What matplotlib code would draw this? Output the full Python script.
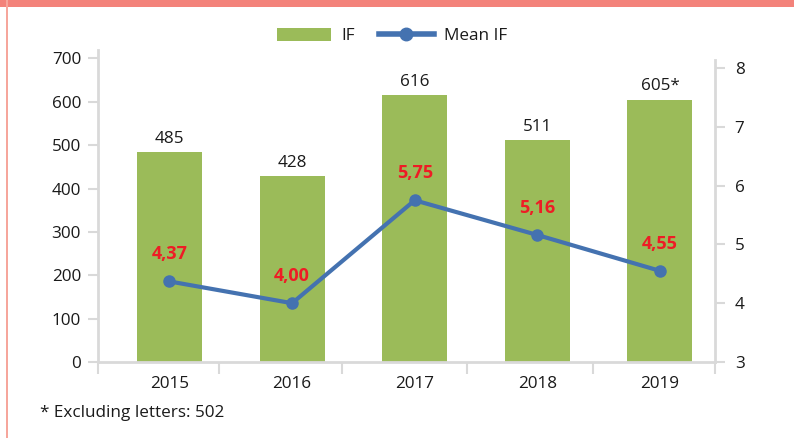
import matplotlib
matplotlib.use("Agg")
import matplotlib.pyplot as plt
import numpy as np
from matplotlib.patches import Rectangle
from matplotlib.lines import Line2D

years = ["2015", "2016", "2017", "2018", "2019"]
if_values = [485, 428, 616, 511, 605]
if_labels = ["485", "428", "616", "511", "605*"]
mean_if = [4.37, 4.00, 5.75, 5.16, 4.55]
mean_labels = ["4,37", "4,00", "5,75", "5,16", "4,55"]
left_ticks = [0, 100, 200, 300, 400, 500, 600, 700]
right_ticks = [3, 4, 5, 6, 7, 8]
footnote = "* Excluding letters: 502"

plt.rcParams['font.family'] = ['Open Sans', 'DejaVu Sans']

GREEN = '#9bbb59'
BLUE = '#4472b0'
GRAY = '#d9d9d9'
TXT = '#1a1a1a'
RED = '#ee1c25'
FS = 12.3

fig = plt.figure(figsize=(7.94, 4.38), dpi=100)
fig.patch.set_facecolor('white')

# decorative border
fig.add_artist(Rectangle((0, 1 - 7/438), 1, 7/438, transform=fig.transFigure,
                         facecolor='#f3827a', edgecolor='none'))
fig.add_artist(Rectangle((5.5/794, 0), 2/794, 1, transform=fig.transFigure,
                         facecolor='#f6a69c', edgecolor='none'))

ax = fig.add_axes([98/794, 76/438, 617/794, 312/438])
x = np.arange(len(years))
ax.bar(x, if_values, width=0.53, color=GREEN, zorder=2)
ax.set_xlim(-0.583, 4.449)
ax.set_ylim(0, 719.6)
ax.set_yticks(left_ticks)
ax.set_yticklabels([str(t) for t in left_ticks])
ax.set_xticks(x)
ax.set_xticklabels(years)
ax.set_xticks([-0.583, 0.40, 1.41, 2.43, 3.45, 4.449], minor=True)
ax.tick_params(axis='x', which='major', length=0, pad=10, labelsize=FS, labelcolor=TXT)
ax.tick_params(axis='x', which='minor', length=8.6, width=1.5, color=GRAY, direction='out')
ax.tick_params(axis='y', length=7.2, width=1.5, color=GRAY, pad=5, labelsize=FS, labelcolor=TXT)
for s in ['top', 'right']:
    ax.spines[s].set_visible(False)
for s in ['left', 'bottom']:
    ax.spines[s].set_color(GRAY)
    ax.spines[s].set_linewidth(2)

for xi, v, lab in zip(x, if_values, if_labels):
    ax.annotate(lab, (xi, v), xytext=(0, 9.5), textcoords='offset points',
                ha='center', va='center', fontsize=FS, color=TXT)

ax2 = ax.twinx()
ax2.plot(x, mean_if, color=BLUE, linewidth=3, marker='o', markersize=8, zorder=3)
ax2.set_ylim(3, 8.306)
ax2.set_yticks(right_ticks)
ax2.set_yticklabels([str(t) for t in right_ticks])
ax2.tick_params(axis='y', length=7.2, width=1.5, color=GRAY, pad=7, labelsize=FS, labelcolor=TXT)
for s in ['top', 'left', 'bottom']:
    ax2.spines[s].set_visible(False)
ax2.spines['right'].set_color(GRAY)
ax2.spines['right'].set_linewidth(2)
ax2.spines['right'].set_bounds(3, 8.136)

for xi, v, lab in zip(x, mean_if, mean_labels):
    ax2.annotate(lab, (xi, v), xytext=(0, 19.5), textcoords='offset points',
                 ha='center', va='center', fontsize=13, fontweight='bold', color=RED)

handles = [Rectangle((0, 0), 1, 1, facecolor=GREEN, edgecolor='none'),
           Line2D([], [], color=BLUE, linewidth=4, marker='o', markersize=9)]
fig.legend(handles, ['IF', 'Mean IF'], loc='center', bbox_to_anchor=(392/794, 1 - 36/438),
           ncol=2, frameon=False, fontsize=FS, handlelength=3.2, handleheight=0.8,
           handletextpad=0.6, columnspacing=1.4, labelcolor=TXT)

fig.text(40/794, 1 - 413/438, footnote, ha='left', va='center', fontsize=FS, color=TXT)

fig.savefig('out.png', dpi=100)
